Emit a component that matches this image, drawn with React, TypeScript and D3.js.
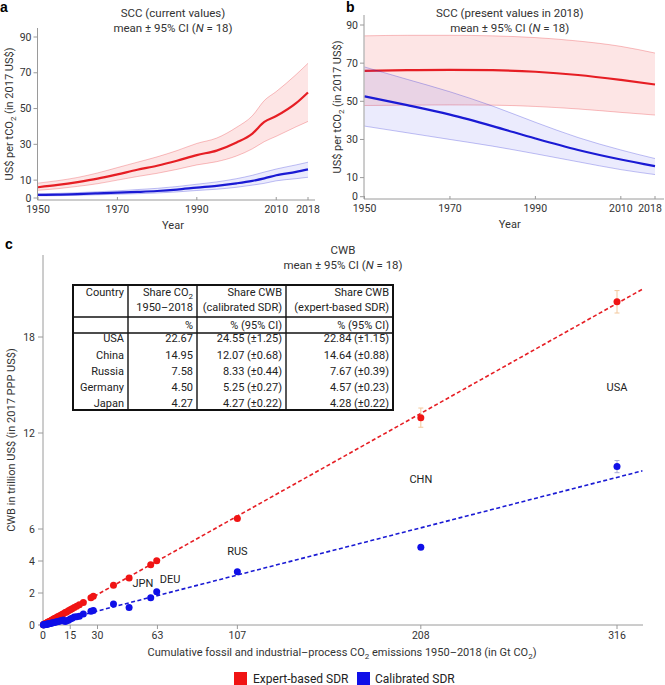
import React from 'react';
import * as d3 from 'd3';

// ---------- Panel a: SCC current values ----------
const yearsA = [1950, 1955, 1960, 1965, 1970, 1975, 1980, 1985, 1990, 1995, 2000, 2004, 2007, 2010, 2015, 2018];
const redMeanA = [6.0, 7.3, 8.9, 10.8, 13.2, 15.8, 18.0, 20.8, 24.0, 26.5, 31.0, 36.0, 42.5, 45.8, 53.0, 59.0];
const redHiA = [8.3, 9.7, 11.5, 14.0, 17.0, 20.0, 23.0, 26.5, 30.5, 33.5, 39.5, 46.0, 54.5, 59.5, 69.0, 75.3];
const redLoA = [4.3, 5.2, 6.5, 8.0, 10.0, 12.0, 13.8, 16.0, 18.5, 20.3, 23.5, 27.5, 31.5, 34.5, 39.8, 42.8];
const blueMeanA = [1.7, 1.9, 2.2, 2.6, 3.0, 3.4, 3.9, 4.7, 5.8, 6.8, 8.2, 9.6, 11.0, 12.7, 14.6, 16.0];
const blueHiA = [2.3, 2.6, 3.0, 3.5, 4.0, 4.7, 5.4, 6.4, 7.7, 9.0, 10.8, 12.7, 14.5, 16.2, 18.5, 20.0];
const blueLoA = [1.2, 1.3, 1.5, 1.8, 2.1, 2.4, 2.8, 3.4, 4.2, 4.9, 6.0, 7.2, 8.2, 9.6, 10.8, 11.6];

// ---------- Panel b: SCC present values in 2018 ----------
const yearsB = [1950, 1960, 1970, 1980, 1990, 2000, 2010, 2018];
const redMeanB = [66.0, 66.3, 66.5, 66.3, 65.5, 63.8, 61.2, 58.8];
const redHiB = [84.3, 84.6, 84.6, 84.3, 83.4, 81.6, 78.8, 75.3];
const redLoB = [47.8, 48.0, 48.1, 48.0, 47.3, 46.0, 44.2, 42.8];
const blueMeanB = [52.6, 48.0, 43.0, 37.0, 30.5, 24.5, 19.5, 16.0];
const blueHiB = [68.0, 61.5, 55.0, 47.5, 39.0, 31.0, 24.5, 20.0];
const blueLoB = [37.0, 33.5, 30.0, 26.5, 22.5, 18.3, 14.2, 11.6];

const yTicksAB = [0, 10, 30, 50, 70, 90];
const xTicksAB = [1950, 1970, 1990, 2010, 2018];

// ---------- Panel c: CWB vs cumulative emissions ----------
const emissions = [316, 208, 107, 62.6, 59.3, 47.4, 38.8, 27.7, 26.4, 22.2, 20.0, 18.5, 17.2, 16.0, 15.0, 14.0, 13.0, 12.2, 11.2, 10.4, 9.5, 8.6, 7.8, 7.0, 6.2, 5.5, 4.9, 4.3, 3.8, 3.3, 2.8, 2.4, 2.0, 1.6, 1.3, 1.0, 0.8, 0.6, 0.4, 0.2];
const cwbExpert = [20.2, 12.96, 6.65, 4.02, 3.77, 2.94, 2.48, 1.80, 1.70, 1.40, 1.26, 1.17, 1.10, 1.01, 0.95, 0.89, 0.82, 0.78, 0.71, 0.66, 0.60, 0.55, 0.50, 0.44, 0.40, 0.35, 0.31, 0.27, 0.24, 0.21, 0.18, 0.15, 0.13, 0.10, 0.08, 0.06, 0.05, 0.04, 0.03, 0.01];
const cwbCalib = [9.9, 4.86, 3.33, 2.08, 1.71, 1.10, 1.31, 0.90, 0.86, 0.69, 0.55, 0.52, 0.50, 0.42, 0.38, 0.30, 0.27, 0.22, 0.31, 0.27, 0.26, 0.22, 0.20, 0.18, 0.16, 0.14, 0.12, 0.11, 0.09, 0.08, 0.07, 0.06, 0.05, 0.04, 0.03, 0.03, 0.02, 0.02, 0.01, 0.01];
const errExpert = [0.7, 0.6, 0.1, 0.05, 0.05];
const errCalib = [0.38, 0.1, 0.08, 0.04, 0.04];
const fitSlopeExpert = 0.0636;
const fitSlopeCalib = 0.0292;
const fitMaxX = 330;
const pointLabels = ['USA', 'CHN', 'RUS', 'DEU', 'JPN'];
const labelPos = [[316, 14.9], [208, 9.1], [107, 4.6], [70, 2.85], [55, 2.6]];
const xTicksC = [0, 15, 30, 63, 107, 208, 316];
const yTicksC = [0, 2, 4, 6, 12, 18];

// ---------- Table ----------
const tableCountries = ['USA', 'China', 'Russia', 'Germany', 'Japan'];
const tableShareCO2 = ['22.67', '14.95', '7.58', '4.50', '4.27'];
const tableShareCal = ['24.55 (±1.25)', '12.07 (±0.68)', '8.33 (±0.44)', '5.25 (±0.27)', '4.27 (±0.22)'];
const tableShareExp = ['22.84 (±1.15)', '14.64 (±0.88)', '7.67 (±0.39)', '4.57 (±0.23)', '4.28 (±0.22)'];

const FONT = 'Roboto, "Noto Sans", sans-serif';
const RED = '#e61e24';
const BLUE = '#1a1ad4';
const PRED = '#f01414';
const PBLUE = '#0f0fe8';
const AX = '#9a9a9a';
const TXT = '#333';

function Band({ x, y, years, mean, lo, hi, color, fill }: any) {
  const area = d3.area<number>().x((_, i) => x(years[i])).y0((_, i) => y(lo[i])).y1((_, i) => y(hi[i])).curve(d3.curveMonotoneX);
  const line = (arr: number[]) => d3.line<number>().x((_, i) => x(years[i])).y((d) => y(d)).curve(d3.curveMonotoneX)(arr) || '';
  return (
    <g>
      <path d={area(mean) || ''} fill={fill} stroke="none" />
      <path d={line(hi)} fill="none" stroke={color} strokeOpacity={0.35} strokeWidth={0.8} />
      <path d={line(lo)} fill="none" stroke={color} strokeOpacity={0.35} strokeWidth={0.8} />
      <path d={line(mean)} fill="none" stroke={color} strokeWidth={2.2} />
    </g>
  );
}

function TimePanel({ x, y, years, red, blue, axisX, axisTop, axisY, axisRight, title, letter, letterX, ylabelX, maxLabelX }: any) {
  const cx = (x.range()[0] + x.range()[1]) / 2;
  const cy = (axisTop + axisY) / 2;
  return (
    <g>
      <text x={letterX} y={12} fontWeight="bold" fontSize={14} fill="#000" fontFamily="Arial, sans-serif">{letter}</text>
      <text x={cx} y={17} textAnchor="middle" fontSize={11.5} fill={TXT}>{title}</text>
      <text x={cx} y={32} textAnchor="middle" fontSize={11.5} fill={TXT}>mean ± 95% CI (<tspan fontStyle="italic">N</tspan> = 18)</text>
      <Band x={x} y={y} years={years} mean={red[0]} hi={red[1]} lo={red[2]} color={RED} fill="rgba(240,40,40,0.12)" />
      <Band x={x} y={y} years={years} mean={blue[0]} hi={blue[1]} lo={blue[2]} color={BLUE} fill="rgba(60,60,240,0.10)" />
      <line x1={axisX} x2={axisX} y1={axisTop} y2={axisY} stroke={AX} strokeWidth={1} />
      <line x1={axisX} x2={axisRight} y1={axisY} y2={axisY} stroke={AX} strokeWidth={1} />
      {yTicksAB.map((t) => (
        <g key={t}>
          <line x1={axisX - 4} x2={axisX} y1={y(t)} y2={y(t)} stroke={AX} />
          <text x={axisX - 6} y={y(t) + 3.5} textAnchor="end" fontSize={10.5} fill={TXT}>{t}</text>
        </g>
      ))}
      {xTicksAB.map((t) => (
        <g key={t}>
          <line x1={x(t)} x2={x(t)} y1={axisY - 3} y2={axisY} stroke={AX} />
          <text x={Math.min(x(t), maxLabelX)} y={axisY + 13} textAnchor="middle" fontSize={10.5} fill={TXT}>{t}</text>
        </g>
      ))}
      <text x={cx} y={axisY + 29} textAnchor="middle" fontSize={11} fill={TXT}>Year</text>
      <text transform={`translate(${ylabelX},${cy}) rotate(-90)`} textAnchor="middle" fontSize={11} fill={TXT}>
        US$ per tCO<tspan dy={3} fontSize={8}>2</tspan><tspan dy={-3}> (in 2017 US$)</tspan>
      </text>
    </g>
  );
}

export default function App() {
  const xA = d3.scaleLinear().domain([1950, 2018]).range([38, 308]);
  const yA = d3.scaleLinear().domain([0, 90]).range([198, 37]);
  const xB = d3.scaleLinear().domain([1950, 2018]).range([364.5, 655]);
  const yB = d3.scaleLinear().domain([0, 90]).range([196.7, 25]);
  const xC = d3.scaleLinear().domain([0, 316]).range([43, 617]);
  const yC = d3.scaleLinear().domain([0, 18]).range([625, 337]);

  // table geometry
  const colX = [73, 128, 197, 286, 393];
  const rowY = [285, 317, 333, 410];
  const rowCenters = [338, 355, 371, 387, 403];

  return (
    <svg width={665} height={685} style={{ position: 'absolute', left: 0, top: 0, background: '#fff' }} fontFamily={FONT}>
      <rect x={0} y={0} width={665} height={685} fill="#fff" />
      <TimePanel x={xA} y={yA} years={yearsA} red={[redMeanA, redHiA, redLoA]} blue={[blueMeanA, blueHiA, blueLoA]}
        axisX={37.5} axisTop={28} axisY={200} axisRight={315} title="SCC (current values)" letter="a" letterX={0} ylabelX={13} maxLabelX={1000} />
      <TimePanel x={xB} y={yB} years={yearsB} red={[redMeanB, redHiB, redLoB]} blue={[blueMeanB, blueHiB, blueLoB]}
        axisX={364} axisTop={15} axisY={199} axisRight={664} title="SCC (present values in 2018)" letter="b" letterX={346} ylabelX={341} maxLabelX={650} />

      {/* Panel c */}
      <text x={5} y={249} fontWeight="bold" fontSize={14} fill="#000" fontFamily="Arial, sans-serif">c</text>
      <text x={343} y={254} textAnchor="middle" fontSize={11.5} fill={TXT}>CWB</text>
      <text x={343} y={269} textAnchor="middle" fontSize={11.5} fill={TXT}>mean ± 95% CI (<tspan fontStyle="italic">N</tspan> = 18)</text>

      <line x1={43} x2={43} y1={255} y2={625} stroke={AX} />
      <line x1={43} x2={643} y1={625} y2={625} stroke={AX} />
      {yTicksC.map((t) => (
        <g key={t}>
          <line x1={38} x2={43} y1={yC(t)} y2={yC(t)} stroke={AX} />
          <text x={35} y={yC(t) + 3.5} textAnchor="end" fontSize={10.5} fill={TXT}>{t}</text>
        </g>
      ))}
      {xTicksC.map((t) => (
        <g key={t}>
          <line x1={xC(t)} x2={xC(t)} y1={625} y2={629} stroke={AX} />
          <text x={xC(t)} y={639} textAnchor="middle" fontSize={10.5} fill={TXT}>{t}</text>
        </g>
      ))}
      <text x={342} y={656} textAnchor="middle" fontSize={11} fill={TXT}>
        Cumulative fossil and industrial–process CO<tspan dy={3} fontSize={8}>2</tspan><tspan dy={-3}> emissions 1950–2018 (in Gt CO</tspan><tspan dy={3} fontSize={8}>2</tspan><tspan dy={-3}>)</tspan>
      </text>
      <text transform={`translate(15,440) rotate(-90)`} textAnchor="middle" fontSize={11} fill={TXT}>CWB in trillion US$ (in 2017 PPP US$)</text>

      {/* fitted lines */}
      <line x1={xC(0)} y1={yC(0)} x2={xC(fitMaxX)} y2={yC(fitSlopeExpert * fitMaxX)} stroke={RED} strokeWidth={1.6} strokeDasharray="4,2.5" />
      <line x1={xC(0)} y1={yC(0)} x2={xC(fitMaxX)} y2={yC(fitSlopeCalib * fitMaxX)} stroke={BLUE} strokeWidth={1.6} strokeDasharray="4,2.5" />

      {/* error bars */}
      {errExpert.map((e, i) => (
        <g key={'ee' + i} stroke="#f3c89c" strokeWidth={1}>
          <line x1={xC(emissions[i])} x2={xC(emissions[i])} y1={yC(cwbExpert[i] - e)} y2={yC(cwbExpert[i] + e)} />
          <line x1={xC(emissions[i]) - 2.5} x2={xC(emissions[i]) + 2.5} y1={yC(cwbExpert[i] - e)} y2={yC(cwbExpert[i] - e)} />
          <line x1={xC(emissions[i]) - 2.5} x2={xC(emissions[i]) + 2.5} y1={yC(cwbExpert[i] + e)} y2={yC(cwbExpert[i] + e)} />
        </g>
      ))}
      {errCalib.map((e, i) => (
        <g key={'ec' + i} stroke="#a8acd8" strokeWidth={1}>
          <line x1={xC(emissions[i])} x2={xC(emissions[i])} y1={yC(cwbCalib[i] - e)} y2={yC(cwbCalib[i] + e)} />
          <line x1={xC(emissions[i]) - 2.5} x2={xC(emissions[i]) + 2.5} y1={yC(cwbCalib[i] - e)} y2={yC(cwbCalib[i] - e)} />
          <line x1={xC(emissions[i]) - 2.5} x2={xC(emissions[i]) + 2.5} y1={yC(cwbCalib[i] + e)} y2={yC(cwbCalib[i] + e)} />
        </g>
      ))}
      {emissions.map((e, i) => (
        <circle key={'r' + i} cx={xC(e)} cy={yC(cwbExpert[i])} r={3.5} fill={PRED} />
      ))}
      {emissions.map((e, i) => (
        <circle key={'b' + i} cx={xC(e)} cy={yC(cwbCalib[i])} r={3.5} fill={PBLUE} />
      ))}
      {pointLabels.map((l, i) => (
        <text key={l} x={xC(labelPos[i][0])} y={yC(labelPos[i][1]) + 4} textAnchor="middle" fontSize={11} fill="#222">{l}</text>
      ))}

      {/* table */}
      <g fontSize={11} fill="#222">
        <rect x={colX[0]} y={rowY[0]} width={colX[4] - colX[0]} height={rowY[3] - rowY[0]} fill="#fff" stroke="#111" strokeWidth={2} />
        {colX.slice(1, 4).map((cx) => (
          <line key={cx} x1={cx} x2={cx} y1={rowY[0]} y2={rowY[3]} stroke="#111" strokeWidth={1.4} />
        ))}
        {rowY.slice(1, 3).map((ry) => (
          <line key={ry} x1={colX[0]} x2={colX[4]} y1={ry} y2={ry} stroke="#111" strokeWidth={1.4} />
        ))}
        <text x={colX[1] - 4} y={296}  textAnchor="end">Country</text>
        <text x={colX[2] - 4} y={296} textAnchor="end">Share CO<tspan dy={3} fontSize={8}>2</tspan></text>
        <text x={colX[2] - 4} y={311} textAnchor="end">1950–2018</text>
        <text x={colX[3] - 4} y={296} textAnchor="end">Share CWB</text>
        <text x={colX[3] - 4} y={311} textAnchor="end">(calibrated SDR)</text>
        <text x={colX[4] - 4} y={296} textAnchor="end">Share CWB</text>
        <text x={colX[4] - 4} y={311} textAnchor="end">(expert-based SDR)</text>
        <text x={colX[2] - 4} y={329} textAnchor="end">%</text>
        <text x={colX[3] - 4} y={329} textAnchor="end">% (95% CI)</text>
        <text x={colX[4] - 4} y={329} textAnchor="end">% (95% CI)</text>
        {tableCountries.map((c, i) => (
          <g key={c}>
            <text x={colX[1] - 4} y={rowCenters[i] + 4} textAnchor="end">{c}</text>
            <text x={colX[2] - 4} y={rowCenters[i] + 4} textAnchor="end">{tableShareCO2[i]}</text>
            <text x={colX[3] - 4} y={rowCenters[i] + 4} textAnchor="end">{tableShareCal[i]}</text>
            <text x={colX[4] - 4} y={rowCenters[i] + 4} textAnchor="end">{tableShareExp[i]}</text>
          </g>
        ))}
      </g>

      {/* legend */}
      <rect x={234} y={672} width={13} height={13} fill={PRED} />
      <text x={253} y={683} fontSize={12} fill="#222">Expert-based SDR</text>
      <rect x={357} y={672} width={13} height={13} fill={PBLUE} />
      <text x={375} y={683} fontSize={12} fill="#222">Calibrated SDR</text>
    </svg>
  );
}
